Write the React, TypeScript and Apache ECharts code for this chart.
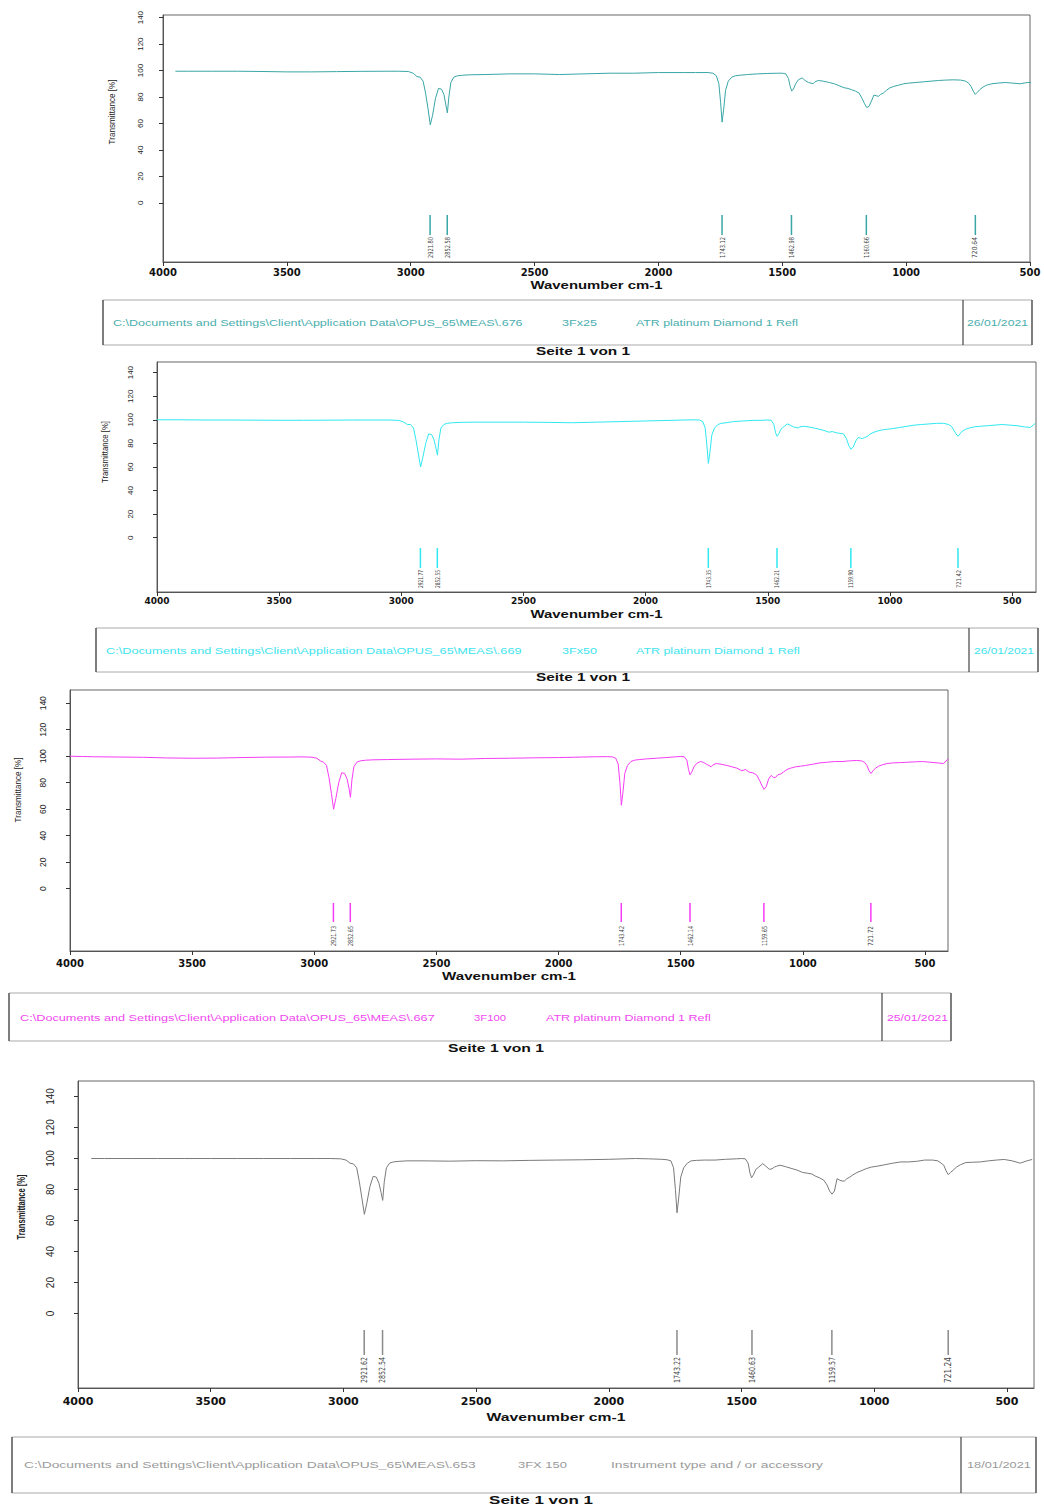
import React, { useEffect, useRef } from "react";
import * as echarts from "echarts";

// ---------- DATA ----------
const WAVENUMBERS = [
  4000, 3950, 3900, 3800, 3700, 3600, 3500, 3400, 3300, 3200,
  3100, 3050, 3010, 2990, 2975, 2962, 2950, 2940, 2930, 2921,
  2912, 2900, 2888, 2876, 2866, 2858, 2852, 2846, 2838, 2826,
  2812, 2790, 2760, 2700, 2600, 2500, 2400, 2300, 2200, 2100,
  2000, 1900, 1850, 1800, 1780, 1766, 1756, 1749, 1743, 1737,
  1729, 1718, 1704, 1690, 1670, 1640, 1600, 1560, 1520, 1500,
  1486, 1475, 1468, 1462, 1455, 1446, 1435, 1420, 1408, 1395,
  1384, 1376, 1368, 1355, 1335, 1310, 1290, 1270, 1250, 1235,
  1220, 1205, 1190, 1178, 1168, 1159, 1150, 1140, 1130, 1121,
  1112, 1103, 1092, 1080, 1065, 1050, 1030, 1010, 990, 960,
  930, 900, 870, 840, 810, 780, 760, 748, 738, 729,
  721, 713, 703, 690, 675, 655, 630, 600, 570, 540,
  510, 480, 450, 425, 405,
];

// Transmittance [%], sample 3Fx25 (teal)
const T_3FX25 = [
  null, 99.5, 99.5, 99.5, 99.5, 99.3, 99, 99, 99.2, 99.4,
  99.5, 99.5, 99.3, 98, 95.5, 95, 92, 83, 71, 59,
  66, 79, 86.5, 86, 82, 74, 68, 80, 91, 95,
  96, 96.5, 96.8, 97, 97.5, 97.5, 97, 97.5, 98, 98,
  98.5, 98.5, 98.5, 98.5, 98, 96, 90, 76, 61, 70,
  85, 92, 95, 96, 96.5, 97, 97.5, 97.8, 98, 98,
  97.5, 94, 88, 84.5, 86, 90, 93, 94.5, 92.5, 91,
  90.5, 90, 91.5, 92.5, 92, 91, 90, 88.5, 87, 86.5,
  85.5, 84.5, 83, 79, 75, 72, 73, 77, 81.5, 81,
  80.5, 82, 83, 85, 87, 88, 89, 90, 90.5, 91,
  91.5, 92, 92.5, 92.8, 93, 92.8, 92, 90.5, 88, 84.5,
  82, 83.5, 85.5, 87.5, 89, 90, 90.5, 91, 90.5, 90,
  91, 91, 91, 91, 91,
];

// Transmittance [%], sample 3Fx50 (cyan)
const T_3FX50 = [
  100, 100, 100, 99.8, 99.8, 99.7, 99.6, 99.6, 99.7, 99.8,
  99.8, 99.8, 99.5, 98, 96, 96, 93, 83, 71, 60,
  68, 80, 88, 87.5, 83, 76, 70, 83, 93, 96,
  97, 97.5, 97.8, 98, 98, 98, 97.8, 97.5, 98, 98.5,
  99, 99.5, 99.8, 100, 99.8, 98.5, 93, 78, 63, 72,
  87, 93, 96, 97, 97.5, 98.5, 99, 99.5, 99.6, 99.8,
  99.6, 96, 89, 86, 88, 92, 94, 96.5, 95.5, 94,
  93.5, 93, 94, 94.5, 94, 93, 92, 91, 89.5, 90,
  89, 88.5, 88, 84, 78, 75, 77, 82, 85, 84.5,
  84, 85, 86, 88, 89.5, 90.5, 91.5, 92, 92.5, 93.5,
  94.5, 95.5, 96, 96.5, 97, 97, 96, 94.5, 91, 88,
  86, 88, 90.5, 92, 93, 94, 94.5, 95, 95.5, 96,
  95.5, 95, 94, 93.5, 97,
];

// Transmittance [%], sample 3F100 (magenta)
const T_3F100 = [
  100, 99.8, 99.6, 99.4, 99.2, 98.7, 98.5, 98.6, 99.0, 99.3,
  99.4, 99.5, 99.3, 98.5, 96.5, 95.5, 93, 84, 72, 60,
  68, 80, 87.5, 87, 83, 76, 69, 82, 92, 95.5,
  96.5, 97, 97.3, 97.5, 97.8, 98, 97.8, 98.3, 98.5, 98.8,
  99, 99.4, 99.6, 99.7, 99.5, 98.5, 94, 80, 63, 72,
  87, 93, 96, 97, 97.5, 98, 98.5, 99, 99.6, 99.8,
  99.6, 97, 90, 86, 88, 92, 94.5, 96, 95.5, 94,
  93, 92, 93.5, 94.5, 94, 93, 92, 91, 89, 90,
  88, 87.5, 86, 82, 78, 75, 77, 83, 85.5, 84,
  84, 86, 86.5, 88, 90, 91, 92, 92.5, 93, 94,
  95, 95.5, 96, 96, 96.5, 96.8, 96.5, 95.5, 93, 89,
  87, 89, 91, 92.5, 93.5, 94.5, 95, 95.2, 95.5, 95.8,
  96, 95.5, 95, 94.5, 98,
];

// Transmittance [%], sample 3FX 150 (grey)
const T_3FX150 = [
  null, 100, 100, 100, 100, 100, 100, 100, 100, 100,
  100, 100, 99.8, 99, 97, 96.5, 94, 85, 74, 64,
  71, 82, 88.5, 88, 84, 78, 73, 85, 94, 97,
  97.8, 98.2, 98.5, 98.5, 98.3, 98.6, 98.5, 98.8, 99, 99.2,
  99.5, 100, 99.8, 99.5, 99.2, 98.5, 94, 80, 65, 74,
  88, 94, 97, 98.5, 98.8, 99, 99, 99.5, 99.8, 100,
  99.8, 97, 90.5, 87.6, 89.5, 93, 94.5, 96.7, 95, 93,
  93.5, 94.5, 95, 95.7, 94.8, 93.5, 92.5, 91, 90.5, 90,
  88.5, 87.5, 86, 83, 79, 77, 79, 87, 86, 85.5,
  85.5, 87, 88, 89.5, 91, 92, 93.5, 94.5, 95, 96,
  97, 97.8, 97.8, 98.2, 99, 99, 98.5, 97, 95.7, 92,
  89.6, 91, 92.4, 94.5, 96, 97.4, 97.6, 97.8, 98.5, 99,
  99.4, 98.5, 97, 98.5, 99.4,
];

// Peak picks (wavenumber cm-1)
const PEAKS_3FX25 = [2921.8, 2852.58, 1743.12, 1462.98, 1160.66, 720.64];
const PEAKS_3FX50 = [2921.77, 2852.55, 1743.35, 1462.21, 1159.9, 721.42];
const PEAKS_3F100 = [2921.73, 2852.65, 1743.42, 1462.14, 1159.65, 721.72];
const PEAKS_3FX150 = [2921.62, 2852.54, 1743.22, 1460.63, 1159.57, 721.24];

const X_TICKS = [4000, 3500, 3000, 2500, 2000, 1500, 1000, 500];
const Y_TICKS = [0, 20, 40, 60, 80, 100, 120, 140];

const PATH_PREFIX = "C:\\Documents and Settings\\Client\\Application Data\\OPUS_65\\MEAS\\";
const FOOTER_3FX25 = [PATH_PREFIX + ".676", "3Fx25", "ATR platinum Diamond 1 Refl", "26/01/2021"];
const FOOTER_3FX50 = [PATH_PREFIX + ".669", "3Fx50", "ATR platinum Diamond 1 Refl", "26/01/2021"];
const FOOTER_3F100 = [PATH_PREFIX + ".667", "3F100", "ATR platinum Diamond 1 Refl", "25/01/2021"];
const FOOTER_3FX150 = [PATH_PREFIX + ".653", "3FX 150", "Instrument type and / or accessory", "18/01/2021"];

const Y_TITLE = "Transmittance [%]";
const X_TITLE = "Wavenumber cm-1";
const PAGE_TEXT = "Seite 1 von 1";

// ---------- LAYOUT / STYLE ----------
const FONT = '"Liberation Sans", Arial, sans-serif';
const NARROW = '"Liberation Sans Narrow", "DejaVu Sans Condensed", sans-serif';
const WIDE = '"DejaVu Sans", sans-serif';

const PANELS = [
  {
    values: T_3FX25, peaks: PEAKS_3FX25, footer: FOOTER_3FX25,
    color: "#3aa6a6", markColor: "#3aa6a6", textColor: "#4aaeae",
    grid: { left: 163, top: 15, width: 867, height: 247 },
    xMin: 500, yMin: -44.7, yMax: 142,
    mark: [47, 27, 25], peakFont: 7, peakLen: 21,
    xFont: 10, xMargin: 5, yFont: 8, yMargin: 19,
    xTitle: { y: 286, w: 132, size: 10 },
    yTitle: { x: 112, y: 112, len: 65, size: 9, weight: "normal" },
    box: { x: 103, y: 300, w: 929, h: 45, div: 963 },
    text: { y: 323, xs: [113, 562, 636, 967], ws: [410, 35, 162, 61] },
    page: { x: 583, y: 352, w: 94 },
  },
  {
    values: T_3FX50, peaks: PEAKS_3FX50, footer: FOOTER_3FX50,
    color: "#30e8f0", markColor: "#30e8f0", textColor: "#40e4ee",
    grid: { left: 157, top: 362, width: 879, height: 230 },
    xMin: 402, yMin: -46, yMax: 149,
    mark: [44, 24, 22], peakFont: 6.5, peakLen: 18,
    xFont: 9, xMargin: 4, yFont: 8, yMargin: 23,
    xTitle: { y: 615, w: 132, size: 10 },
    yTitle: { x: 105, y: 452, len: 62, size: 9, weight: "normal" },
    box: { x: 96, y: 628, w: 942, h: 44, div: 969 },
    text: { y: 651, xs: [106, 562, 636, 974], ws: [416, 35, 164, 60] },
    page: { x: 583, y: 678, w: 94 },
  },
  {
    values: T_3F100, peaks: PEAKS_3F100, footer: FOOTER_3F100,
    color: "#f53cf5", markColor: "#f53cf5", textColor: "#f048f0",
    grid: { left: 70, top: 690, width: 878, height: 261 },
    xMin: 406, yMin: -47, yMax: 150,
    mark: [48, 29, 25], peakFont: 7, peakLen: 20,
    xFont: 10, xMargin: 7, yFont: 8.5, yMargin: 23,
    xTitle: { y: 976, w: 134, size: 10 },
    yTitle: { x: 18, y: 790, len: 65, size: 9, weight: "normal" },
    box: { x: 9, y: 993, w: 942, h: 48, div: 882 },
    text: { y: 1018, xs: [20, 474, 546, 887], ws: [415, 32, 165, 61] },
    page: { x: 496, y: 1049, w: 96 },
  },
  {
    values: T_3FX150, peaks: PEAKS_3FX150, footer: FOOTER_3FX150,
    color: "#7a7a7a", markColor: "#8a8a8a", textColor: "#9a9a9a",
    grid: { left: 78, top: 1081, width: 956, height: 307 },
    xMin: 398, yMin: -48, yMax: 150,
    mark: [58, 33, 31], peakFont: 8.5, peakLen: 26,
    xFont: 11, xMargin: 8, yFont: 10, yMargin: 23,
    xTitle: { y: 1417, w: 139, size: 11 },
    yTitle: { x: 22, y: 1207, len: 65, size: 10, weight: "bold" },
    box: { x: 12, y: 1437, w: 1024, h: 56, div: 961 },
    text: { y: 1465, xs: [24, 518, 611, 967], ws: [452, 49, 212, 64] },
    page: { x: 541, y: 1500, w: 104 },
  },
];

function makeMeasurer() {
  const ctx = document.createElement("canvas").getContext("2d");
  return (text: string, size: number, weight: string, family: string) => {
    if (!ctx) return text.length * size * 0.5;
    ctx.font = `${weight} ${size}px ${family}`;
    return ctx.measureText(text).width || 1;
  };
}

export default function App() {
  const ref = useRef<HTMLDivElement>(null);

  useEffect(() => {
    if (!ref.current) return;
    const chart = echarts.init(ref.current, undefined, { renderer: "svg" });
    const measure = makeMeasurer();

    const fitText = (
      text: string, x: number, y: number, w: number, size: number,
      weight: string, family: string, fill: string, align: string, rotation = 0
    ) => {
      const mw = measure(text, size, weight, family);
      return {
        type: "text", x, y, rotation, scaleX: w / mw, silent: true,
        style: { text, fontSize: size, fontWeight: weight, fontFamily: family, fill, align, verticalAlign: "middle" },
      };
    };

    const grids: any[] = [];
    const xAxes: any[] = [];
    const yAxes: any[] = [];
    const series: any[] = [];
    const graphics: any[] = [];

    PANELS.forEach((p, i) => {
      grids.push({
        left: p.grid.left, top: p.grid.top, width: p.grid.width, height: p.grid.height,
        show: true, borderColor: "#666", borderWidth: 1, backgroundColor: "transparent",
      });
      xAxes.push({
        gridIndex: i, type: "value", inverse: true, min: p.xMin, max: 4000,
        axisLine: { show: true, onZero: false, lineStyle: { color: "#555", width: 1 } },
        axisTick: { show: true, customValues: X_TICKS, length: 4, lineStyle: { color: "#333" } },
        axisLabel: {
          customValues: X_TICKS, margin: p.xMargin, fontSize: p.xFont, fontWeight: "bold",
          fontFamily: WIDE, color: "#111", showMinLabel: true, showMaxLabel: true,
          formatter: (v: number) => String(v),
        },
        splitLine: { show: false },
      });
      yAxes.push({
        gridIndex: i, type: "value", min: p.yMin, max: p.yMax,
        axisLine: { show: true, onZero: false, lineStyle: { color: "#555", width: 1 } },
        axisTick: { show: true, customValues: Y_TICKS, length: 4, lineStyle: { color: "#333" } },
        axisLabel: {
          customValues: Y_TICKS, rotate: 90, margin: p.yMargin, fontSize: p.yFont,
          fontFamily: FONT, color: "#222", formatter: (v: number) => String(v),
        },
        splitLine: { show: false },
      });
      series.push({
        type: "line", xAxisIndex: i, yAxisIndex: i, silent: true, clip: true,
        symbol: "none", showSymbol: false, connectNulls: false,
        lineStyle: { color: p.color, width: 1 },
        data: WAVENUMBERS.map((w, k) => [w, p.values[k] == null ? "-" : p.values[k]]),
      });
      const mark = p.mark;
      const markColor = p.markColor;
      const peakFont = p.peakFont;
      const peakLen = p.peakLen;
      series.push({
        type: "custom", xAxisIndex: i, yAxisIndex: i, silent: true, clip: false,
        data: p.peaks.map((w) => [w, 0]),
        renderItem: (params: any, api: any) => {
          const wn = api.value(0);
          const x = api.coord([wn, 0])[0];
          const cs = params.coordSys;
          const bottom = cs.y + cs.height;
          const label = Number(wn).toFixed(2);
          const s = peakLen / measure(label, peakFont, "normal", NARROW);
          return {
            type: "group",
            children: [
              {
                type: "line",
                shape: { x1: x, y1: bottom - mark[0], x2: x, y2: bottom - mark[1] },
                style: { stroke: markColor, lineWidth: 1.5 },
              },
              {
                type: "text", x, y: bottom - mark[2], rotation: Math.PI / 2, scaleX: s,
                style: {
                  text: label, fontSize: peakFont, fontFamily: NARROW,
                  fill: "#444", align: "right", verticalAlign: "middle",
                },
              },
            ],
          };
        },
      });

      // axis titles
      graphics.push(
        fitText(X_TITLE, p.grid.left + p.grid.width / 2, p.xTitle.y, p.xTitle.w, p.xTitle.size,
          "bold", FONT, "#111", "center")
      );
      graphics.push(
        fitText(Y_TITLE, p.yTitle.x, p.yTitle.y, p.yTitle.len, p.yTitle.size,
          p.yTitle.weight, FONT, "#222", "center", Math.PI / 2)
      );

      // footer box
      const b = p.box;
      graphics.push({
        type: "rect", silent: true,
        shape: { x: b.x, y: b.y, width: b.w, height: b.h },
        style: { fill: "none", stroke: "#aaa", lineWidth: 1 },
      });
      [b.x, b.div, b.x + b.w].forEach((lx) => {
        graphics.push({
          type: "line", silent: true,
          shape: { x1: lx, y1: b.y, x2: lx, y2: b.y + b.h },
          style: { stroke: "#444", lineWidth: 1.2 },
        });
      });
      p.footer.forEach((t, k) => {
        graphics.push(fitText(t, p.text.xs[k], p.text.y, p.text.ws[k], 8.5, "normal", FONT, p.textColor, "left"));
      });
      graphics.push(fitText(PAGE_TEXT, p.page.x, p.page.y, p.page.w, 10, "bold", FONT, "#111", "center"));
    });

    chart.setOption({
      animation: false,
      backgroundColor: "#ffffff",
      grid: grids,
      xAxis: xAxes,
      yAxis: yAxes,
      series,
      graphic: { elements: graphics },
    });

    return () => chart.dispose();
  }, []);

  return (
    <div
      ref={ref}
      style={{ position: "absolute", left: 0, top: 0, width: 1044, height: 1508, background: "#fff" }}
    />
  );
}
